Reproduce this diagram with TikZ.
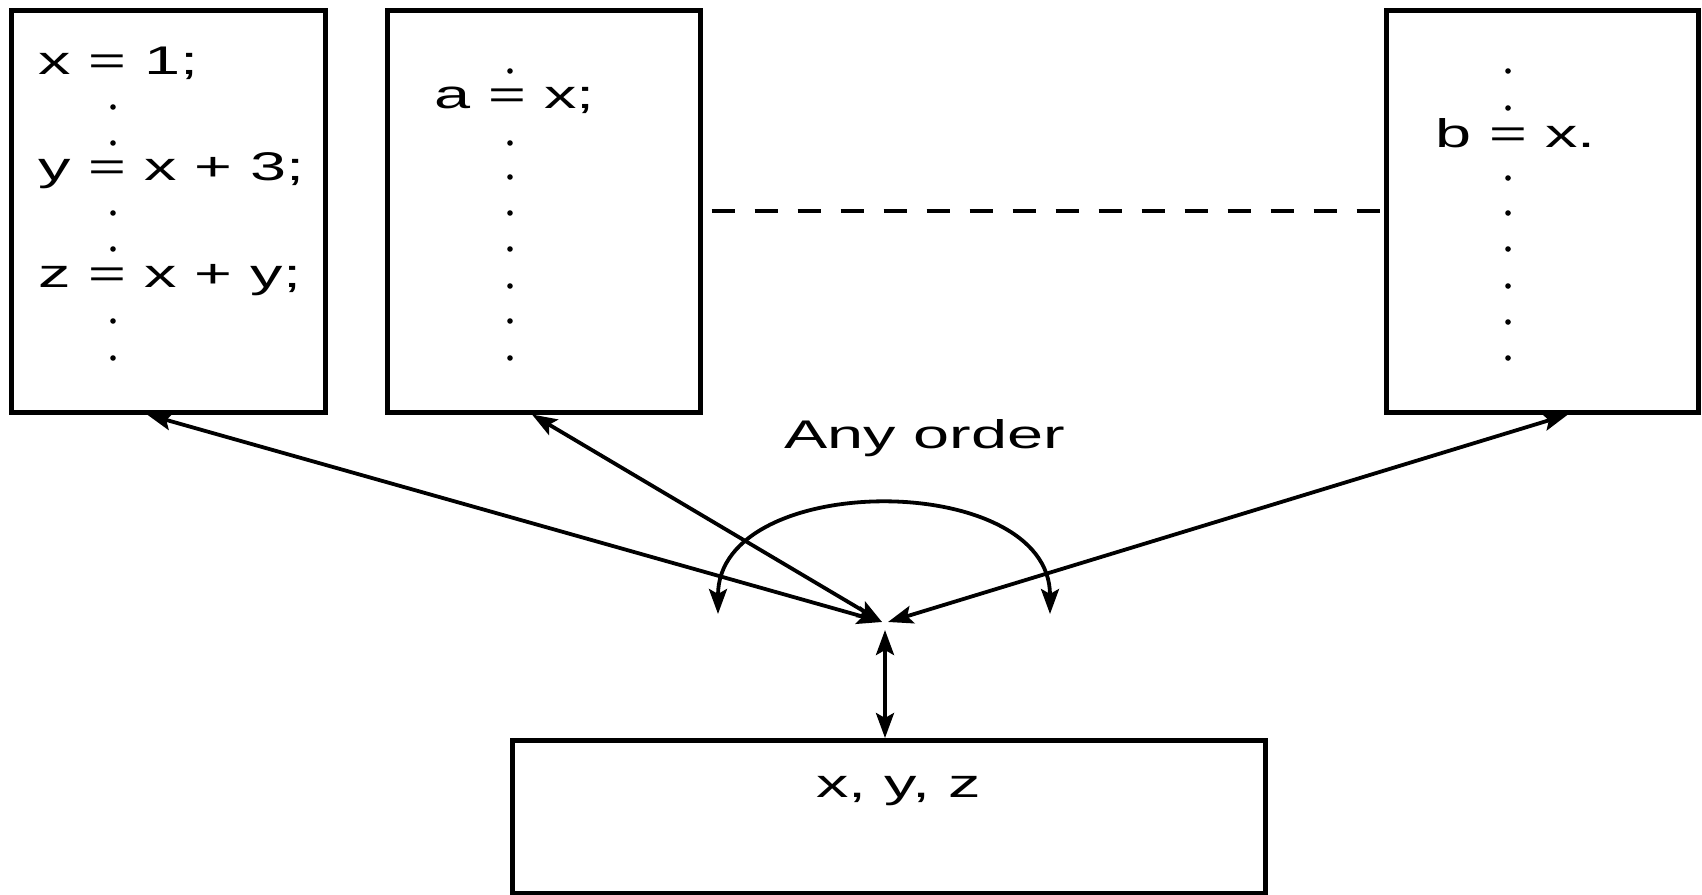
\documentclass[tikz,border=0pt]{standalone}
\usepackage{fontspec}
\setmainfont{Liberation Sans}
\newfontfamily\widefont[FakeStretch=1.62]{Liberation Sans}
\usetikzlibrary{arrows.meta,calc}
\tikzset{
  box/.style={draw,line width=4.5pt,inner sep=0pt,anchor=north west},
  txt/.style={inner sep=0pt,anchor=base west,font=\fontsize{40}{48}\selectfont\widefont},
  tip/.style={},
  arr/.style={line width=3.8pt,{Stealth[length=25pt,width=18pt,inset=5pt]}-{Stealth[length=25pt,width=18pt,inset=5pt]}},
  dashline/.style={line width=3.8pt,dash pattern=on 23pt off 20pt,dash phase=-9pt},
  dotmark/.style={circle,fill,inner sep=0pt,minimum size=5.6pt}
}
\begin{document}
\begin{tikzpicture}[x=1pt,y=-1pt]
\useasboundingbox (0,0) rectangle (1702,894);
% boxes
\node[box,minimum width=314pt,minimum height=402pt] (b1) at (9,8) {};
\node[box,minimum width=313pt,minimum height=402pt] (b2) at (385,8) {};
\node[box,minimum width=312pt,minimum height=402pt] (b3) at (1384,8) {};
\node[box,minimum width=753pt,minimum height=153pt] (b4) at (510,738) {};
% texts
\node[txt] (t1) at (38,74) {x = 1;};
\node[txt] (t2) at (38,180) {y = x + 3;};
\node[txt] (t3) at (38,287) {z = x + y;};
\node[txt] (t4) at (434,108) {a = x;};
\node[txt] (t5) at (1435,147) {b = x.};
\node[txt] (t6) at (784,448) {Any order};
\node[txt] (t7) at (816,797) {x, y, z};
% dots
\foreach \y [count=\i] in {107,143,213,249,321,358}
  \node[dotmark] (d1\i) at (113,\y) {};
\foreach \y [count=\i] in {71,143,177,213,249,286,321,358}
  \node[dotmark] (d2\i) at (510,\y) {};
\foreach \y [count=\i] in {71,108,178,213,249,286,322,358}
  \node[dotmark] (d3\i) at (1508,\y) {};
% dashed connector
\draw[dashline] (b2.east) -- (b3.west);
% convergence
\coordinate (cl) at (882,622);
\coordinate (cr) at (888,622);
\draw[arr] ([xshift=138pt]b1.south west) -- (cl);
\draw[arr] ([xshift=147pt]b2.south west) -- (cl);
\draw[arr] ([xshift=184pt]b3.south west) -- (cr);
\coordinate (ct) at (885,630);
\draw[arr] (ct) -- (b4.north -| ct);
% any order arc
\coordinate (al) at (718,614);
\coordinate (ar) at (1050,614);
\draw[arr] (al) .. controls (718,470) and (1050,470) .. (ar);
\end{tikzpicture}
\end{document}
